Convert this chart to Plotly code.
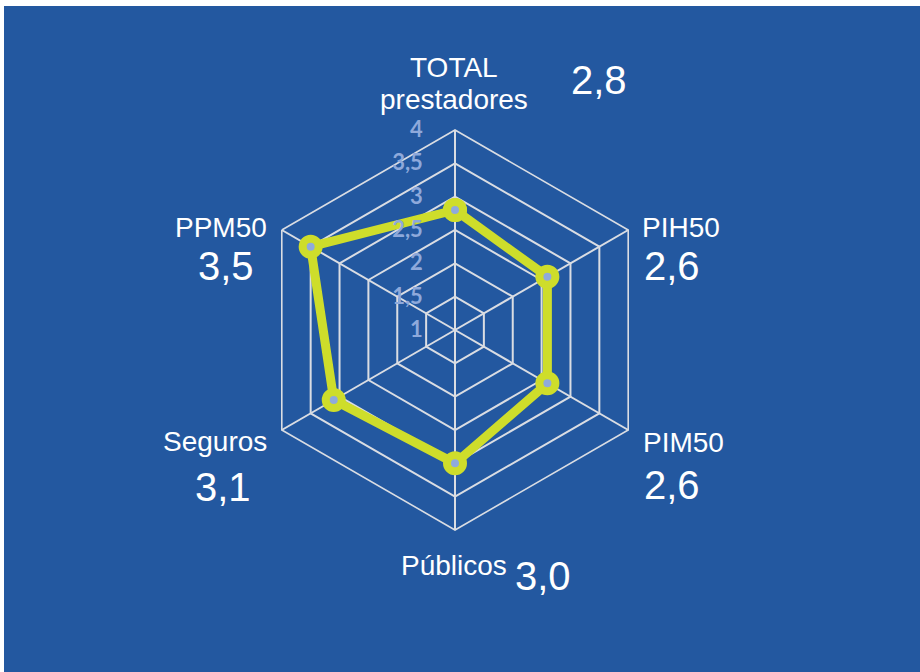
import plotly.graph_objects as go

# ---- data ----
categories = ["TOTAL prestadores", "PIH50", "PIM50", "Públicos", "Seguros", "PPM50"]
values = [2.8, 2.6, 2.6, 3.0, 3.1, 3.5]
label_lines = [["TOTAL", "prestadores"], ["PIH50"], ["PIM50"], ["Públicos"], ["Seguros"], ["PPM50"]]
tick_vals = [1, 1.5, 2, 2.5, 3, 3.5, 4]
tick_text = ["1", "1,5", "2", "2,5", "3", "3,5", "4"]

# ---- layout helpers (pixel positions of label centres) ----
W, H = 920, 672
label_pos = [[(454, 68), (454, 99)], [(681, 227)], [(683, 442)], [(454, 565)], [(215, 441)], [(221, 227)]]
value_pos = [(599, 80), (672, 266), (672, 485), (543, 576), (223, 487), (226, 266)]

BG = "#2358A0"
LINE = "#CEDD2B"
GRID = "#DADDE3"

fig = go.Figure()
fig.add_trace(go.Scatterpolar(
    r=values + values[:1],
    theta=categories + categories[:1],
    mode="lines+markers",
    line=dict(color=LINE, width=9),
    marker=dict(size=16, color="#8FAADC", line=dict(color=LINE, width=8)),
    hoverinfo="skip",
))

cx, cy, R = 455, 330, 200
fig.update_layout(
    width=W, height=H,
    margin=dict(l=0, r=0, t=0, b=0),
    paper_bgcolor="white",
    plot_bgcolor=BG,
    showlegend=False,
    shapes=[dict(type="rect", xref="paper", yref="paper", x0=4 / W, x1=1, y0=0, y1=1 - 6 / H,
                 fillcolor=BG, line=dict(width=0), layer="below")],
    polar=dict(
        domain=dict(x=[(cx - R) / W, (cx + R) / W], y=[1 - (cy + R) / H, 1 - (cy - R) / H]),
        bgcolor=BG,
        gridshape="linear",
        radialaxis=dict(
            range=[1, 4], tickvals=tick_vals, ticktext=[f"<b>{t}</b>" for t in tick_text],
            angle=90, tickangle=90, side="counterclockwise", showline=False,
            ticks="outside", ticklen=24, tickcolor="rgba(0,0,0,0)",
            gridcolor=GRID, gridwidth=1.6,
            tickfont=dict(family="Lato, Open Sans, sans-serif", size=22, color="#8EA9DB"),
        ),
        angularaxis=dict(
            rotation=90, direction="clockwise",
            showticklabels=False, ticks="",
            gridcolor=GRID, gridwidth=1.6,
            linecolor=GRID, linewidth=1.6,
        ),
    ),
)

annotations = []
for lines, poss in zip(label_lines, label_pos):
    for txt, (px, py) in zip(lines, poss):
        annotations.append(dict(text=txt, x=px / W, y=1 - py / H, xref="paper", yref="paper",
                                xanchor="center", yanchor="middle", showarrow=False,
                                font=dict(family="Liberation Sans, Arial, sans-serif", size=28, color="white")))
for v, (px, py) in zip(values, value_pos):
    annotations.append(dict(text=f"{v:.1f}".replace(".", ","), x=px / W, y=1 - py / H,
                            xref="paper", yref="paper", xanchor="center", yanchor="middle",
                            showarrow=False,
                            font=dict(family="Liberation Sans, Arial, sans-serif", size=40, color="white")))
fig.update_layout(annotations=annotations)

fig.write_html("out.html")
